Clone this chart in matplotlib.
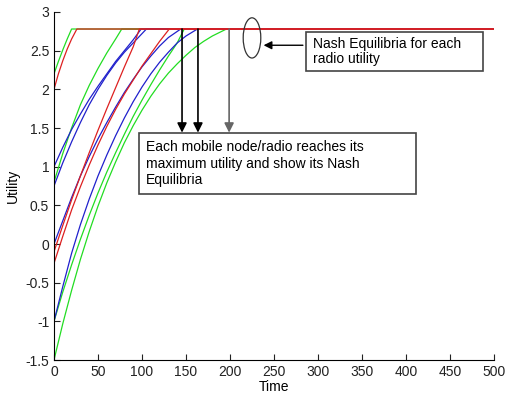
import matplotlib.pyplot as plt
from matplotlib.patches import Ellipse, Rectangle

plt.rcParams['font.family'] = ['Liberation Sans', 'DejaVu Sans']

# utility curves: (time, utility) samples, flat at the
# Nash equilibrium value afterwards
ne_value = 2.78
t_end = 500

g1_t = [0, 5, 10, 15, 20]
g1_u = [2.2, 2.36, 2.51, 2.65, 2.78]
r1_t = [0, 5, 10, 15, 20, 26]
r1_u = [2.0, 2.2, 2.37, 2.52, 2.65, 2.78]
g2_t = [0, 10, 20, 30, 40, 50, 60, 70, 77]
g2_u = [0.8, 1.17, 1.5, 1.8, 2.05, 2.27, 2.47, 2.65, 2.78]
b1_t = [0, 10, 20, 30, 40, 50, 60, 70, 80, 90, 99]
b1_u = [1.0, 1.25, 1.48, 1.68, 1.87, 2.04, 2.2, 2.36, 2.5, 2.64, 2.78]
b2_t = [0, 10, 20, 30, 40, 50, 60, 70, 80, 90, 105]
b2_u = [0.75, 1.05, 1.32, 1.57, 1.8, 2.0, 2.18, 2.34, 2.48, 2.6, 2.78]
r2_t = [0, 10, 20, 30, 40, 50, 60, 70, 80, 90, 97]
r2_u = [-0.1, 0.24, 0.57, 0.88, 1.18, 1.47, 1.75, 2.02, 2.29, 2.55, 2.78]
r3_t = [0, 10, 20, 30, 40, 50, 60, 70, 80, 90, 100, 110, 120, 131]
r3_u = [-0.25, 0.1, 0.44, 0.74, 1.02, 1.28, 1.52, 1.74, 1.94, 2.12, 2.3, 2.46, 2.62, 2.78]
b3_t = [0, 10, 20, 30, 40, 50, 60, 70, 80, 90, 100, 110, 120, 130, 144]
b3_u = [0.0, 0.3, 0.6, 0.88, 1.13, 1.36, 1.57, 1.77, 1.96, 2.13, 2.29, 2.43, 2.56, 2.67, 2.78]
b4_t = [0, 10, 20, 30, 40, 50, 60, 70, 80, 90, 100, 110, 120, 130, 140, 150, 163]
b4_u = [-1.0, -0.55, -0.12, 0.25, 0.58, 0.88, 1.15, 1.4, 1.63, 1.84, 2.03, 2.2, 2.35,
        2.48, 2.6, 2.69, 2.78]
g3_t = [0, 10, 20, 30, 40, 50, 60, 70, 80, 90, 100, 110, 120, 130, 140, 148]
g3_u = [-1.0, -0.62, -0.27, 0.06, 0.37, 0.66, 0.93, 1.18, 1.42, 1.65, 1.86, 2.06, 2.25,
        2.43, 2.6, 2.78]
g4_t = [0, 10, 20, 30, 40, 50, 60, 70, 80, 90, 100, 110, 120, 130, 140, 150, 160,
        170, 180, 196]
g4_u = [-1.5, -1.03, -0.6, -0.2, 0.16, 0.49, 0.79, 1.06, 1.31, 1.53, 1.73, 1.91, 2.07,
        2.21, 2.33, 2.44, 2.54, 2.62, 2.69, 2.78]

GREEN = '#22dd22'
RED = '#dd2020'
BLUE = '#2020cc'

curves = [
    (g4_t, g4_u, GREEN), (g3_t, g3_u, GREEN), (g2_t, g2_u, GREEN), (g1_t, g1_u, GREEN),
    (b4_t, b4_u, BLUE), (b3_t, b3_u, BLUE), (b2_t, b2_u, BLUE), (b1_t, b1_u, BLUE),
    (r3_t, r3_u, RED), (r2_t, r2_u, RED), (r1_t, r1_u, RED),
]

fig = plt.figure(figsize=(5.06, 3.96), dpi=100)
ax = fig.add_axes([0.1067, 0.0909, 0.8696, 0.8788])

for t, u, c in curves:
    ax.plot(t + [t_end], u + [ne_value], color=c, lw=0.9)

ax.set_xlim(0, 500)
ax.set_ylim(-1.5, 3)
ax.set_xticks(range(0, 501, 50))
ax.set_yticks([-1.5, -1, -0.5, 0, 0.5, 1, 1.5, 2, 2.5, 3])
ax.set_yticklabels(['-1.5', '-1', '-0.5', '0', '0.5', '1', '1.5', '2', '2.5', '3'])
ax.tick_params(direction='in', length=4, labelsize=10, colors='#222222')
ax.spines['top'].set_visible(False)
ax.spines['right'].set_visible(False)
ax.set_xlabel('Time', fontsize=10, labelpad=1)
ax.set_ylabel('Utility', fontsize=10, labelpad=4)

# ellipse around the equilibrium line
ax.add_patch(Ellipse((225, 2.665), 20, 0.52, fill=False, ec='#333333', lw=0.9, zorder=4))

# text boxes
ax.add_patch(Rectangle((286, 2.24), 201, 0.50, fc='white', ec='#444444', lw=1.2, zorder=5))
ax.text(294, 2.49, 'Nash Equilibria for each\nradio utility', fontsize=10,
        va='center', ha='left', linespacing=1.15, zorder=6)
ax.annotate('', xy=(235, 2.57), xytext=(286, 2.57),
            arrowprops=dict(arrowstyle='-|>', color='black', lw=1.0, mutation_scale=12),
            zorder=6)

ax.add_patch(Rectangle((96.5, 0.647), 315, 0.79, fc='white', ec='#444444', lw=1.2, zorder=5))
ax.text(104.5, 1.04, 'Each mobile node/radio reaches its\nmaximum utility and show its Nash\nEquilibria',
        fontsize=10, va='center', ha='left', linespacing=1.2, zorder=6)

for x0, col in [(145.5, 'black'), (163.6, 'black'), (199, '#666666')]:
    ax.annotate('', xy=(x0, 1.44), xytext=(x0, ne_value),
                arrowprops=dict(arrowstyle='-|>', color=col, lw=1.2, mutation_scale=14,
                                shrinkA=0, shrinkB=0))

fig.savefig('out.png', dpi=100)
